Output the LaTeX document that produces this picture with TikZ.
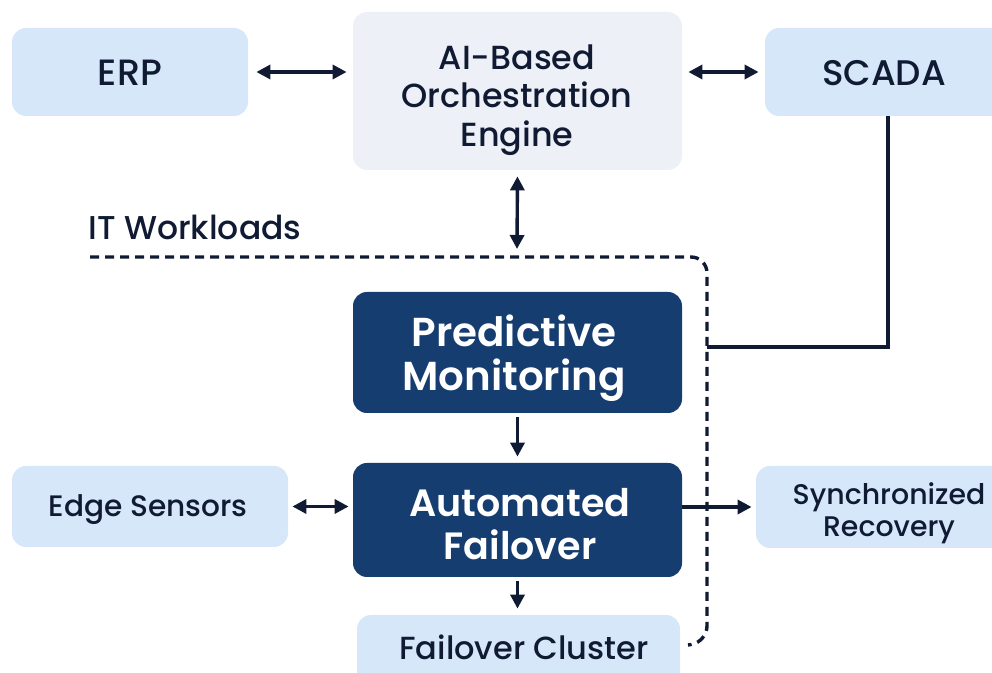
\documentclass[tikz,border=0pt]{standalone}
\usepackage{fontspec}
\setmainfont{Poppins}
\IfFontExistsTF{Poppins Medium}{\newfontfamily\pmed{Poppins Medium}}{\newfontfamily\pmed{Poppins}}
\IfFontExistsTF{Poppins SemiBold}{\newfontfamily\psemi{Poppins SemiBold}}{\newfontfamily\psemi{Poppins}[UprightFont={* Bold}]}
\usetikzlibrary{arrows.meta}
\definecolor{lightblue}{HTML}{D6E7FA}
\definecolor{lightgray}{HTML}{EDF1F7}
\definecolor{navy}{HTML}{163D6F}
\definecolor{ink}{HTML}{101B33}
\tikzset{
  lbox/.style={fill=lightblue, rounded corners=7pt, inner sep=0pt},
  gbox/.style={fill=lightgray, rounded corners=7pt, inner sep=0pt},
  dbox/.style={fill=navy, rounded corners=7pt, inner sep=0pt},
  ltext/.style={align=center, text=ink, inner sep=0pt, font=\pmed\fontsize{16}{19}\selectfont},
  dtext/.style={align=center, text=white, inner sep=0pt, font=\psemi\fontsize{19}{21.5}\selectfont},
  conn/.style={draw=ink, line width=1.7pt},
  tip/.style={-{Triangle[length=7pt,width=7pt]}},
  dtip/.style={{Triangle[length=7pt,width=7pt]}-{Triangle[length=7pt,width=7pt]}},
  dashline/.style={draw=ink, line width=1.7pt, dash pattern=on 4.5pt off 3pt, rounded corners=8pt}
}
\begin{document}
\begin{tikzpicture}[x=0.5pt,y=-0.5pt]
\useasboundingbox (0,0) rectangle (992,673);
% boxes
\node[lbox, minimum width=118pt, minimum height=44pt] (erp) at (130,72) {};
\node[gbox, minimum width=164.5pt, minimum height=79pt] (ai) at (517.5,91) {};
\node[lbox, minimum width=123pt, minimum height=44pt] (scada) at (888,72) {};
\node[dbox, minimum width=164.5pt, minimum height=60.5pt] (pm) at (517.5,352.5) {};
\node[dbox, minimum width=164.5pt, minimum height=57pt] (af) at (517.5,520) {};
\node[lbox, minimum width=138pt, minimum height=40.5pt] (es) at (150,506.5) {};
\node[lbox, minimum width=125pt, minimum height=41pt] (sr) at (881,507) {};
\node[lbox, minimum width=161.5pt, minimum height=37pt] (fc) at (518.5,652) {};
% texts
\node[ltext, font=\pmed\fontsize{18.3}{21}\selectfont] (erpt) at (130,73) {ERP};
\node[ltext, font=\pmed\fontsize{16.7}{19.2}\selectfont] (ait) at (517,100) {AI-Based\\Orchestration\\Engine};
\node[ltext, font=\pmed\fontsize{17.8}{21}\selectfont] (scadat) at (884,73) {SCADA};
\node[dtext, font=\psemi\fontsize{20.2}{22}\selectfont] (pmt) at (514,358) {Predictive\\Monitoring};
\node[dtext] (aft) at (520,524) {Automated\\Failover};
\node[ltext, font=\pmed\fontsize{14.8}{17}\selectfont] (est) at (148,510) {Edge Sensors};
\node[ltext, font=\pmed\fontsize{14.2}{16}\selectfont] (srt) at (889,513) {Synchronized\\Recovery};
\node[ltext] (fct) at (524,647) {Failover Cluster};
\node[anchor=west, font=\pmed\fontsize{16.5}{19}\selectfont, text=ink, inner sep=0pt] (itw) at (88,227) {IT Workloads};
% dashed IT workloads boundary
\coordinate (dstart) at (90,257);
\coordinate (dcorner) at (707,257);
\coordinate (dbottom) at (707,642);
\coordinate (dend) at (688,645);
\coordinate (dtap) at (707,347);
\coordinate (ittop) at (517,249);
\draw[dashline] (dstart) -- (dcorner) -- (dbottom) -- (dend);
% connectors
\draw[conn, dtip, shorten <=4pt, shorten >=3pt] (erp.east) -- (erp.east -| ai.west);
\draw[conn, dtip, shorten <=3pt, shorten >=3pt] (scada.west -| ai.east) -- (scada.west);
\draw[conn, dtip, shorten <=3pt] (ai.south) -- (ittop);
\draw[conn] (scada.south) |- (dtap);
\draw[conn, tip, shorten <=2pt, shorten >=3pt] (pm.south) -- (af.north);
\draw[conn, dtip, shorten <=2pt, shorten >=2pt] (es.east) -- (es.east -| af.west);
\draw[conn, tip, shorten >=2pt] (sr.west -| af.east) -- (sr.west);
\draw[conn, tip, shorten <=2pt, shorten >=3pt] (af.south) -- (af.south |- fc.north);
\end{tikzpicture}
\end{document}
